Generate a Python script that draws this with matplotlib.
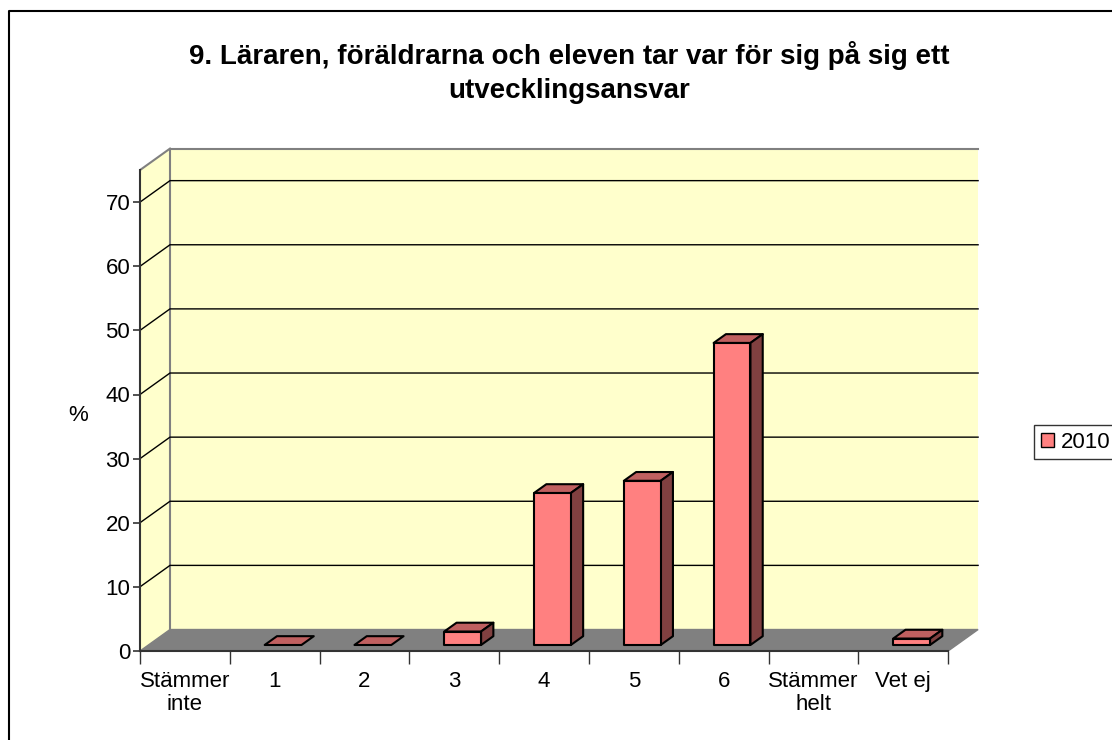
import numpy as np
import matplotlib.pyplot as plt
from matplotlib.patches import Polygon, Rectangle, Patch

categories = ['Stämmer\ninte', '1', '2', '3', '4', '5', '6', 'Stämmer\nhelt', 'Vet ej']
values = [0, 0, 0, 2.1, 23.7, 25.6, 47.1, 0, 1.0]
has_bar = [False, True, True, True, True, True, True, False, True]
yticks = [0, 10, 20, 30, 40, 50, 60, 70]
series_name = '2010'
title = '9. Läraren, föräldrarna och eleven tar var för sig på sig ett\nutvecklingsansvar'

plt.rcParams['font.family'] = ['Liberation Sans', 'DejaVu Sans']

DX, DY = 0.334, 3.35      # depth offset of the back wall (data units)
YTOP = 75
d0, d1 = 0.28, 0.69       # bar depth range (fraction)
bw = 0.41                 # bar width
fs = 16

fig = plt.figure(figsize=(11.12, 7.4), dpi=100)
ax = fig.add_axes([140/1112, 89/740, 853/1112, 513/740])
ax.set_xlim(-0.5, 9.0)
ax.set_ylim(0, 80)
ax.patch.set_visible(False)

n = len(categories)
x0, x1 = -0.5, n - 0.5
wall = '#FFFFCC'
edge = '#808080'

# back wall
ax.add_patch(Rectangle((x0 + DX, DY), n, YTOP, facecolor=wall, edgecolor='none', zorder=1))
ax.plot([x0 + DX, x0 + DX, x1 + DX], [DY, YTOP + DY, YTOP + DY], color=edge, lw=1.5, zorder=2)
# side wall
ax.add_patch(Polygon([(x0, 0), (x0, YTOP), (x0 + DX, YTOP + DY), (x0 + DX, DY)],
                     facecolor=wall, edgecolor='none', zorder=1))
ax.plot([x0, x0 + DX], [YTOP, YTOP + DY], color=edge, lw=1.5, zorder=2)
# gridlines
for v in yticks[1:]:
    ax.plot([x0, x0 + DX, x1 + DX], [v, v + DY, v + DY], color='black', lw=1, zorder=2)
# floor
ax.add_patch(Polygon([(x0, 0), (x1, 0), (x1 + DX, DY), (x0 + DX, DY)],
                     facecolor='#808080', edgecolor=edge, lw=1, zorder=3))

# bars
for i, (v, show) in enumerate(zip(values, has_bar)):
    if not show:
        continue
    xl = i - bw / 2 + d0 * DX
    xr = xl + bw
    yb = d0 * DY
    ox, oy = (d1 - d0) * DX, (d1 - d0) * DY
    kw = dict(edgecolor='black', lw=1.5, zorder=4, joinstyle='round')
    ax.add_patch(Polygon([(xl, yb + v), (xr, yb + v), (xr + ox, yb + v + oy), (xl + ox, yb + v + oy)],
                         facecolor='#C06060', **kw))
    if v > 0:
        ax.add_patch(Polygon([(xr, yb), (xr + ox, yb + oy), (xr + ox, yb + v + oy), (xr, yb + v)],
                             facecolor='#804040', **kw))
        ax.add_patch(Rectangle((xl, yb), bw, v, facecolor='#FF8080', **kw))

# axes
for s in ['top', 'right']:
    ax.spines[s].set_visible(False)
ax.spines['left'].set_bounds(0, YTOP)
ax.spines['bottom'].set_bounds(x0, x1)
for s in ['left', 'bottom']:
    ax.spines[s].set_color('#333333')
    ax.spines[s].set_linewidth(1.5)
    ax.spines[s].set_zorder(5)
ax.set_yticks(yticks)
ax.tick_params(axis='y', length=5, width=1.2, color='#333333', labelsize=fs, pad=2)
ax.set_xticks(np.arange(n))
ax.set_xticklabels(categories, fontsize=fs, linespacing=1.1)
ax.set_xticks(np.arange(n + 1) - 0.5, minor=True)
ax.tick_params(axis='x', which='major', length=0, pad=14.5)
ax.tick_params(axis='x', which='minor', length=9, width=1, color='#333333')
ax.set_ylabel('%', fontsize=fs, rotation=0, va='center', ha='center')
ax.yaxis.set_label_coords(-0.073, 0.46)

fig.text(0.512, 1 - 72.5/740, title, ha='center', va='center', fontsize=20, fontweight='bold',
         linespacing=1.39)

# legend
fig.legend([Patch(facecolor='#FF8080', edgecolor='black')], [series_name],
           loc='center left', bbox_to_anchor=(1034/1112, 1 - 442/740), fontsize=fs,
           frameon=True, fancybox=False, edgecolor='black', handlelength=0.6,
           handleheight=0.6, handletextpad=0.3, borderpad=0.3, borderaxespad=0)

# outer border
fig.add_artist(plt.Line2D([9/1112, 9/1112, 1.0], [0, 1 - 11/740, 1 - 11/740],
                          transform=fig.transFigure, color='black', lw=1.5))

fig.savefig('out.png', dpi=100)
